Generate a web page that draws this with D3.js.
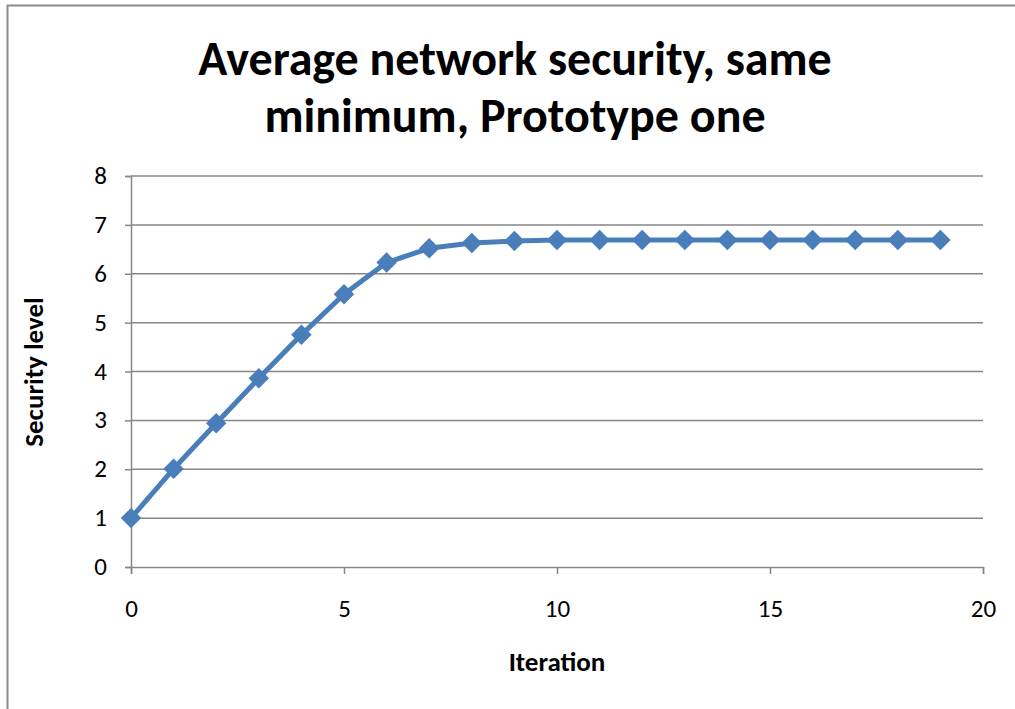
<!DOCTYPE html>
<html>
<head>
<meta charset="utf-8">
<script src="https://cdn.jsdelivr.net/npm/d3@7"></script>
<style>
  html, body { margin: 0; padding: 0; background: #fff; }
  svg { display: block; }
  text { font-family: Carlito, Lato, "Open Sans", sans-serif; fill: #000; }
</style>
</head>
<body>
<script>
// Series: average network security per iteration
const iterations = d3.range(0, 20);
const securityLevels = [1.00, 2.01, 2.94, 3.86, 4.75, 5.58, 6.23, 6.52, 6.63, 6.67,
                        6.69, 6.69, 6.69, 6.69, 6.69, 6.69, 6.69, 6.69, 6.69, 6.69];
const xTicks = [0, 5, 10, 15, 20];
const yTicks = [0, 1, 2, 3, 4, 5, 6, 7, 8];
const titleLines = ["Average network security, same", "minimum, Prototype one"];
const xTitle = "Iteration";
const yTitle = "Security level";

const W = 1015, H = 709;
const plot = { left: 131, right: 983, top: 176, bottom: 567 };
const gridColor = "#868686";
const seriesColor = "#4a7ebb";
const fontStack = "Carlito, Lato, 'Open Sans', sans-serif";

const svg = d3.select("body").append("svg").attr("width", W).attr("height", H);

// Chart frame
svg.append("path")
  .attr("d", `M7.5,${H} V5.5 H${W}`)
  .attr("fill", "none").attr("stroke", "#8c8c8c").attr("stroke-width", 2);

const x = d3.scaleLinear().domain([0, 20]).range([plot.left, plot.right]);
const y = d3.scaleLinear().domain([0, 8]).range([plot.bottom, plot.top]);

// Horizontal gridlines
svg.append("g").selectAll("line").data(yTicks.filter(d => d > 0)).join("line")
  .attr("x1", plot.left).attr("x2", plot.right)
  .attr("y1", d => y(d)).attr("y2", d => y(d))
  .attr("stroke", gridColor).attr("stroke-width", 1.5);

// Y axis
const yAxis = svg.append("g").attr("transform", `translate(${plot.left},0)`)
  .call(d3.axisLeft(y).tickValues(yTicks).tickSize(6).tickPadding(18).tickFormat(d3.format("d")));
// X axis
const xAxis = svg.append("g").attr("transform", `translate(0,${plot.bottom})`)
  .call(d3.axisBottom(x).tickValues(xTicks).tickSize(7).tickPadding(25).tickFormat(d3.format("d")));

[yAxis, xAxis].forEach(g => {
  g.attr("font-size", 25).attr("font-family", fontStack);
  g.select(".domain").attr("stroke", gridColor).attr("stroke-width", 1.5);
  g.selectAll(".tick line").attr("stroke", gridColor).attr("stroke-width", 1.5);
  g.selectAll(".tick text").attr("fill", "#000");
});
yAxis.selectAll(".tick text").attr("dy", "0.3em");

// Series line
svg.append("path")
  .datum(iterations.map((it, i) => [it, securityLevels[i]]))
  .attr("fill", "none").attr("stroke", seriesColor).attr("stroke-width", 5)
  .attr("stroke-linejoin", "round")
  .attr("d", d3.line().x(d => x(d[0])).y(d => y(d[1])));

// Diamond markers
const diamond = d3.symbol().type(d3.symbolSquare).size(210);
svg.append("g").selectAll("path").data(iterations).join("path")
  .attr("d", diamond)
  .attr("transform", (d, i) => `translate(${x(d)},${y(securityLevels[i])}) rotate(45)`)
  .attr("fill", seriesColor);

// Title
svg.append("g").selectAll("text").data(titleLines).join("text")
  .attr("x", 515).attr("y", (d, i) => 75 + i * 57)
  .attr("text-anchor", "middle").attr("font-size", 48).attr("font-weight", "bold")
  .text(d => d);

// Axis titles
svg.append("text").attr("x", 557).attr("y", 671)
  .attr("text-anchor", "middle").attr("font-size", 27).attr("font-weight", "bold")
  .text(xTitle);
svg.append("text").attr("transform", `translate(43,${372}) rotate(-90)`)
  .attr("text-anchor", "middle").attr("font-size", 27).attr("font-weight", "bold")
  .text(yTitle);
</script>
</body>
</html>
